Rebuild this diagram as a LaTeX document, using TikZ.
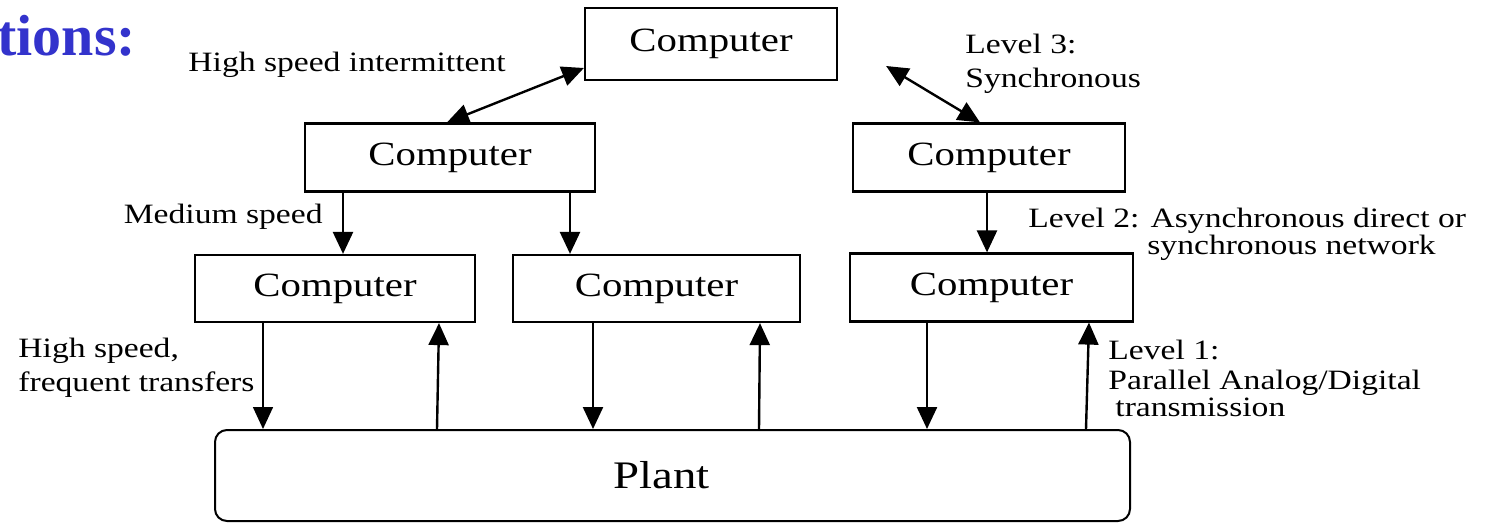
\documentclass[tikz,border=0pt]{standalone}
\usepackage{fontspec}
\setmainfont{Liberation Serif}
\newfontfamily\widefont[FakeStretch=1.2]{Liberation Serif}
\usetikzlibrary{arrows.meta}
\definecolor{titleblue}{RGB}{51,51,204}

\begin{document}
\begin{tikzpicture}[x=0.5pt,y=-0.5pt]
    \tikzstyle{comp}=[draw, line width=1.1pt, minimum height=34pt, inner sep=0pt, font=\widefont\fontsize{17}{20}\selectfont]
    \tikzstyle{lbl}=[inner sep=0pt, align=left, font=\widefont\fontsize{14}{17}\selectfont]
    \tikzstyle{arr}=[line width=1.2pt, -{Triangle[length=11pt,width=10pt]}]
    \tikzstyle{darr}=[line width=1.2pt, {Triangle[length=11pt,width=10pt]}-{Triangle[length=11pt,width=10pt]}]

    \useasboundingbox (0,0) rectangle (1486,523);

    % cut title
    \node[anchor=base west, inner sep=0pt, text=titleblue, font=\bfseries\fontsize{29}{32}\selectfont] (title) at (-3,56) {tions:};

    % computers
    \node[comp, minimum width=126pt, minimum height=36pt] (top) at (711,44) {Computer};
    \node[comp, minimum width=145pt] (ml) at (450,157.5) {Computer};
    \node[comp, minimum width=136pt] (mr) at (989,157.5) {Computer};
    \node[comp, minimum width=140pt, minimum height=33.5pt] (bl) at (335,288.5) {Computer};
    \node[comp, minimum width=143.5pt, minimum height=33.5pt] (bm) at (656.5,288.5) {Computer};
    \node[comp, minimum width=141.5pt] (br) at (991.5,287.5) {Computer};
    \node[draw, line width=1pt, rounded corners=6pt, minimum width=457.5pt, minimum height=45.5pt,
          font=\widefont\fontsize{19.5}{22}\selectfont] (plant) at (672.5,475.5) {Plant\hspace*{11pt}};

    % level 3
    \draw[darr] (top.west |- 0,68) -- (ml.north -| 447,0);
    \draw[darr] ([xshift=24pt,yshift=-11pt]top.east) -- (mr.north -| 980,0);

    % level 2
    \draw[arr] (ml.south -| 343,0) -- (bl.north -| 343,0);
    \draw[arr] (ml.south -| 570,0) -- (bm.north -| 570,0);
    \draw[arr] (mr.south -| 987,0) -- (br.north -| 987,0);

    % level 1
    \draw[arr, line width=0.8pt] (bl.south -| 263,0) -- (plant.north -| 263,0);
    \draw[arr] (plant.north -| 437,0) -- (bl.south -| 439,0);
    \draw[arr] (bm.south -| 593,0) -- (plant.north -| 593,0);
    \draw[arr] (plant.north -| 759,0) -- (bm.south -| 760,0);
    \draw[arr] (br.south -| 927,0) -- (plant.north -| 927,0);
    \draw[arr] (plant.north -| 1086,0) -- (br.south -| 1089,0);

    % labels
    \node[lbl, anchor=west] (hsi) at (188,65) {High speed intermittent};
    \node[lbl, anchor=west] (lv3) at (965,64) {Level 3:\\Synchronous};
    \node[lbl, anchor=east] (med) at (323,217) {Medium speed};
    \node[lbl, anchor=west] (lv2) at (1028,221) {Level 2: Asynchronous direct or};
    \node[lbl, anchor=west] (lv2b) at (1147,248) {synchronous network};
    \node[lbl, anchor=west] (hsf) at (18,368) {High speed,\\frequent transfers};
    \node[lbl, anchor=west] (lv1) at (1108,350) {Level 1:};
    \node[lbl, anchor=west] (lv1b) at (1108,383) {Parallel Analog/Digital};
    \node[lbl, anchor=west] (lv1c) at (1115,407) {transmission};
\end{tikzpicture}
\end{document}
